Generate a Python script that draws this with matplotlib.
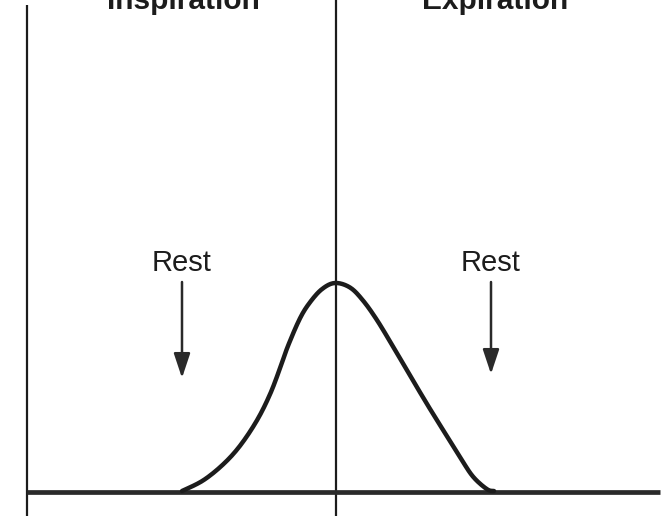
import matplotlib
matplotlib.use("Agg")
import matplotlib.pyplot as plt
import numpy as np

# Diagram coordinates (x to the right, y downward, in figure-pixel units)
curve_x = [182, 203, 223, 240, 257, 270, 280, 288, 300, 310, 322, 335,
           350, 363, 377, 393, 410, 427, 443, 460, 473, 487, 494]
curve_y = [491, 480.5, 464.5, 445.8, 420.3, 394.3, 368.3, 345.9, 318.3, 302.3, 289.1, 283,
           287.5, 300.5, 320.1, 346.5, 375.4, 404.0, 429.9, 457.1, 476.6, 489.2, 491]

phase_labels = ["Inspiration", "Expiration"]
phase_x = [183, 495]
rest_labels = ["Rest", "Rest"]
rest_x = [182, 491]
rest_arrow_start = [282, 282]
rest_arrow_end = [378, 374]

axis_left_x = 27
axis_center_x = 336
baseline_y = 492
baseline_end_x = 660

ink = "#1c1c1c"

fig = plt.figure(figsize=(6.64, 5.16), dpi=100)
ax = fig.add_axes([0, 0, 1, 1])
ax.set_xlim(0, 664)
ax.set_ylim(516, 0)
ax.axis("off")

# vertical lines
ax.plot([axis_left_x, axis_left_x], [5, 516], color=ink, lw=1.6, solid_capstyle="butt")
ax.plot([axis_center_x, axis_center_x], [0, 516], color=ink, lw=1.6, solid_capstyle="butt")
# baseline
ax.plot([axis_left_x, baseline_end_x], [baseline_y, baseline_y], color="#2a2a2a", lw=3.4,
        solid_capstyle="butt")
# smooth curve through the read points (Catmull-Rom)
pts = np.column_stack([curve_x, curve_y]).astype(float)
p = np.vstack([pts[0], pts, pts[-1]])
sx, sy = [], []
for i in range(1, len(p) - 2):
    p0, p1, p2, p3 = p[i - 1], p[i], p[i + 1], p[i + 2]
    for t in np.linspace(0, 1, 12, endpoint=False):
        t2, t3 = t * t, t * t * t
        q = 0.5 * ((2 * p1) + (-p0 + p2) * t + (2 * p0 - 5 * p1 + 4 * p2 - p3) * t2
                   + (-p0 + 3 * p1 - 3 * p2 + p3) * t3)
        sx.append(q[0]); sy.append(q[1])
sx.append(pts[-1, 0]); sy.append(pts[-1, 1])
ax.plot(sx, sy, color=ink, lw=3.2, solid_capstyle="round", solid_joinstyle="round")

# phase labels (cut at top, as in the reference)
for lab, x in zip(phase_labels, phase_x):
    ax.text(x, 9, lab, ha="center", va="baseline", fontsize=21.5, fontweight="bold",
            family="Liberation Sans", color=ink)

# rest labels and arrows
for lab, x, y0, y1 in zip(rest_labels, rest_x, rest_arrow_start, rest_arrow_end):
    ax.text(x, 271, lab, ha="center", va="baseline", fontsize=21, family="Liberation Sans",
            color=ink)
    ax.annotate("", xy=(x, y1), xytext=(x, y0),
                arrowprops=dict(arrowstyle="-|>,head_length=1.5,head_width=0.5",
                                color="#2a2a2a", lw=1.8, shrinkA=0, shrinkB=0))

fig.savefig("out.png", dpi=100, facecolor="white")
